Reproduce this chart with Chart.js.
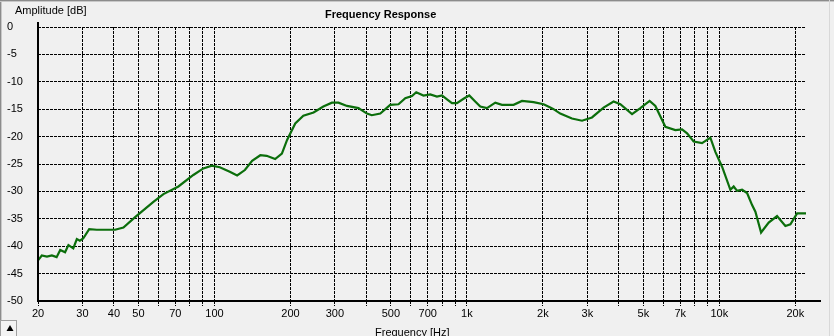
<!DOCTYPE html>
<html><head><meta charset="utf-8">
<script src="https://cdn.jsdelivr.net/npm/chart.js@4.4.1/dist/chart.umd.min.js"></script>
<style>html,body{margin:0;padding:0;background:#f0f0f0;overflow:hidden}#wrap{width:834px;height:336px;position:relative}</style>
</head><body><div id="wrap"><canvas id="c" width="834" height="336"></canvas></div>
<script>
const freqHz = [20, 20.7, 21.7, 22.7, 23.7, 24.5, 25.6, 26.4, 27.6, 28.5,
  29.3, 30.2, 31.9, 34.2, 40.4, 43.6, 48.5, 57.3, 62.8, 72,
  82.5, 90.4, 97.6, 105, 115, 123, 132, 141, 152, 161,
  174, 185, 194, 209, 225, 247, 270, 292, 310, 335,
  372, 402, 420, 454, 497, 536, 570, 606, 630, 673,
  716, 761, 797, 834, 873, 913, 970, 1022, 1079, 1130,
  1201, 1296, 1377, 1531, 1653, 1837, 2013, 2140, 2205, 2344,
  2608, 2858, 3130, 3480, 3813, 4054, 4511, 4866, 5296, 5580,
  6113, 6698, 7118, 7453, 7914, 8544, 9216, 9646, 10256, 11062,
  11400, 11760, 12308, 12884, 13486, 13898, 14638, 15692, 16932, 18268,
  19126, 20330, 22050];
const amplitudeDb = [-42.6, -41.7, -41.9, -41.7, -42.0, -40.7, -41.1, -39.8, -40.4, -38.7,
  -39.0, -38.6, -36.9, -37.0, -37.0, -36.6, -34.7, -31.9, -30.5, -29.1,
  -27.0, -25.8, -25.3, -25.6, -26.4, -27.1, -26.1, -24.4, -23.4, -23.5,
  -24.1, -23.1, -20.6, -17.6, -16.2, -15.6, -14.5, -13.8, -13.8, -14.4,
  -14.8, -15.8, -16.1, -15.8, -14.2, -14.1, -13.0, -12.6, -11.9, -12.5,
  -12.3, -12.7, -12.5, -13.2, -13.9, -13.9, -13.1, -12.5, -13.6, -14.5,
  -14.8, -13.8, -14.2, -14.2, -13.5, -13.7, -14.1, -14.7, -15.0, -15.8,
  -16.7, -17.1, -16.5, -14.7, -13.6, -14.1, -15.9, -14.8, -13.5, -14.4,
  -18.2, -18.8, -18.7, -19.4, -20.9, -21.2, -20.2, -22.8, -25.5, -29.7,
  -29.1, -29.9, -29.7, -30.3, -32.5, -33.7, -37.5, -35.7, -34.5, -36.3,
  -36.0, -34.0, -34.0];
const xTickValues = [20,30,40,50,60,70,80,90,100,200,300,400,500,600,700,800,900,
  1000,2000,3000,4000,5000,6000,7000,8000,9000,10000,20000];
const xLabelValues = [20,30,40,50,70,100,200,300,500,700,1000,2000,3000,5000,7000,10000,20000];
const xLabelTexts = ['20','30','40','50','70','100','200','300','500','700','1k','2k','3k','5k','7k','10k','20k'];
const yTickValues = [0,-5,-10,-15,-20,-25,-30,-35,-40,-45,-50];
const xMin = 20, xMax = 22050, yMin = -50, yMax = 0;
const chartTitle = 'Frequency Response';
const yAxisTitle = 'Amplitude [dB]';
const xAxisTitle = 'Frequency [Hz]';

const FONT = "'Liberation Sans', Arial, sans-serif";
const DASH = [3, 1];

const decor = {
  id: 'decor',
  beforeDraw(chart) {
    const ctx = chart.ctx;
    ctx.save();
    ctx.fillStyle = '#f0f0f0';
    ctx.fillRect(0, 0, chart.width, chart.height);
    ctx.restore();
  },
  afterDraw(chart) {
    const ctx = chart.ctx, a = chart.chartArea;
    ctx.save();
    ctx.fillStyle = '#000';
    ctx.fillRect(a.left - 1, a.top - 5, 2, a.bottom - a.top + 6);
    ctx.fillRect(a.left - 1, a.bottom - 1, a.right + 16 - a.left, 2);
    ctx.textBaseline = 'alphabetic';
    ctx.textAlign = 'left';
    ctx.font = '11px ' + FONT;
    ctx.fillText(yAxisTitle, 15, 13.5);
    ctx.fillText(xAxisTitle, 375, 335.5);
    ctx.font = 'bold 11px ' + FONT;
    ctx.fillText(chartTitle, 325, 17.5);
    ctx.fillStyle = '#8c8c8c';
    ctx.fillRect(0, 0, chart.width, 1);
    ctx.fillRect(0, 0, 1, chart.height);
    ctx.fillStyle = '#c8c8c8';
    ctx.fillRect(0, 1, chart.width, 1);
    ctx.fillRect(1, 1, 1, chart.height);
    ctx.fillStyle = '#d8d8d8';
    ctx.fillRect(829, 0, 1, chart.height);
    ctx.fillStyle = '#f4f4f4';
    ctx.fillRect(0, 320, 17, 16);
    ctx.strokeStyle = '#a0a0a0';
    ctx.lineWidth = 1;
    ctx.strokeRect(0.5, 320.5, 16, 16);
    ctx.fillStyle = '#000';
    ctx.beginPath();
    ctx.moveTo(6.5, 331); ctx.lineTo(13.5, 331); ctx.lineTo(10, 325);
    ctx.closePath(); ctx.fill();
    ctx.restore();
  }
};

new Chart(document.getElementById('c'), {
  type: 'line',
  data: {
    datasets: [{
      data: freqHz.map((f, i) => ({ x: f, y: amplitudeDb[i] })),
      borderColor: '#0b6e0b',
      borderWidth: 2.2,
      pointRadius: 0,
      tension: 0,
      fill: false
    }]
  },
  options: {
    responsive: false,
    animation: false,
    devicePixelRatio: 1,
    layout: { padding: { left: 7, right: 28, top: 27, bottom: 0 } },
    plugins: { legend: { display: false }, tooltip: { enabled: false }, title: { display: false } },
    scales: {
      x: {
        type: 'logarithmic',
        position: 'bottom',
        min: xMin, max: xMax,
        afterBuildTicks: s => { s.ticks = xTickValues.map(v => ({ value: v })); },
        afterFit: s => { s.height = 35; },
        border: { display: false, dash: DASH },
        grid: {
          color: '#000', lineWidth: 1,
          drawTicks: true, tickLength: 5, tickColor: '#000', tickBorderDash: DASH
        },
        ticks: {
          autoSkip: false, maxRotation: 0, minRotation: 0, padding: 1,
          color: '#000', font: { family: FONT, size: 11 },
          callback: v => { const i = xLabelValues.indexOf(v); return i >= 0 ? xLabelTexts[i] : ''; }
        }
      },
      y: {
        type: 'linear',
        min: yMin, max: yMax,
        afterBuildTicks: s => { s.ticks = yTickValues.map(v => ({ value: v })); },
        afterFit: s => { s.width = 31; },
        border: { display: false, dash: DASH },
        grid: { color: '#000', lineWidth: 1, drawTicks: false },
        ticks: {
          crossAlign: 'far', padding: 0,
          color: '#000', font: { family: FONT, size: 11 },
          callback: v => String(v)
        }
      }
    }
  },
  plugins: [decor]
});
</script>
</body></html>
